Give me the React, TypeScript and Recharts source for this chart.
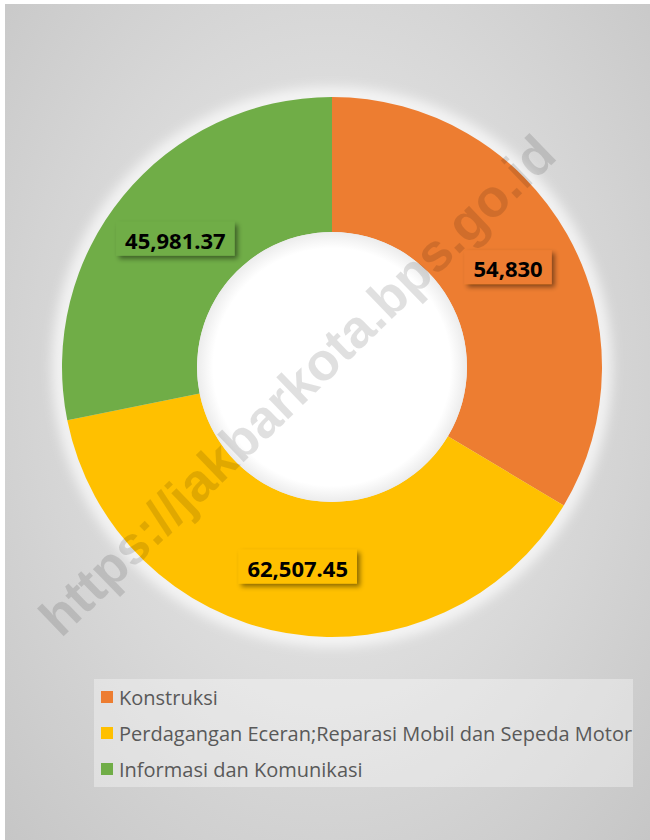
import { PieChart, Pie, Cell, Legend } from 'recharts';

const categories = [
  'Konstruksi',
  'Perdagangan Eceran;Reparasi Mobil dan Sepeda Motor',
  'Informasi dan Komunikasi',
];
const values = [54830, 62507.45, 45981.37];
const valueLabels = ['54,830', '62,507.45', '45,981.37'];
const colors = ['#ED7D31', '#FFC000', '#70AD47'];

const data = categories.map((name, i) => ({
  name,
  value: values[i],
  label: valueLabels[i],
  color: colors[i],
}));

const LABEL_FONT = 'bold 22px "Noto Sans"';
const RAD = Math.PI / 180;

function measure(text: string) {
  const ctx = document.createElement('canvas').getContext('2d');
  if (!ctx) return text.length * 11;
  ctx.font = LABEL_FONT;
  return ctx.measureText(text).width;
}

const renderLabel = (props: any) => {
  const { cx, cy, midAngle, innerRadius, outerRadius, index } = props;
  const r = (innerRadius + outerRadius) / 2;
  const x = cx + r * Math.cos(-midAngle * RAD);
  const y = cy + r * Math.sin(-midAngle * RAD);
  const text = data[index].label;
  const w = measure(text) + 18;
  const h = 34;
  return (
    <g key={`lbl-${index}`}>
      <rect
        x={x - w / 2}
        y={y - h / 2}
        width={w}
        height={h}
        fill={data[index].color}
        filter="url(#boxShadow)"
      />
      <text
        x={x}
        y={y + 1}
        textAnchor="middle"
        dominantBaseline="central"
        style={{ font: LABEL_FONT }}
        fill="#000"
      >
        {text}
      </text>
    </g>
  );
};

const renderLegend = () => (
  <div
    style={{
      background: 'rgba(255,255,255,0.35)',
      padding: '0 0 0 7px',
      fontFamily: '"Open Sans", sans-serif',
      fontSize: 20,
      color: '#595959',
    }}
  >
    {data.map((d) => (
      <div key={d.name} style={{ display: 'flex', alignItems: 'center', height: 36, whiteSpace: 'nowrap' }}>
        <span style={{ width: 12, height: 12, background: d.color, marginRight: 6, display: 'inline-block' }} />
        {d.name}
      </div>
    ))}
  </div>
);

export default function App() {
  return (
    <div style={{ width: 650, height: 840, background: '#fff', position: 'relative', overflow: 'hidden' }}>
      <style>{'body{margin:0}'}</style>
      <svg width={0} height={0} style={{ position: 'absolute' }}>
        <defs>
          <filter id="boxShadow" x="-20%" y="-30%" width="150%" height="180%">
            <feDropShadow dx="3" dy="3" stdDeviation="2.5" floodColor="#000" floodOpacity="0.45" />
          </filter>
          <filter id="glow" x="-20%" y="-20%" width="140%" height="140%">
            <feGaussianBlur stdDeviation="6" />
          </filter>
          <radialGradient id="hole" cx="50%" cy="50%" r="50%">
            <stop offset="88%" stopColor="#ffffff" />
            <stop offset="100%" stopColor="#ececec" />
          </radialGradient>
        </defs>
      </svg>
      <div
        style={{
          position: 'absolute',
          left: 5,
          top: 4,
          width: 645,
          height: 836,
          background: 'radial-gradient(ellipse at 50% 45%, #e9e9e9 0%, #dcdcdc 45%, #c6c6c6 100%)',
        }}
      >
        <PieChart width={645} height={836} margin={{ top: 0, right: 0, bottom: 0, left: 0 }}>
          <Pie
            data={[{ value: 1 }]}
            dataKey="value"
            cx={327}
            cy={363}
            innerRadius={262}
            outerRadius={280}
            fill="#ffffff"
            fillOpacity={0.7}
            stroke="none"
            style={{ filter: 'url(#glow)' }}
            isAnimationActive={false}
            label={false}
          />
          <Pie
            data={data}
            dataKey="value"
            nameKey="name"
            cx={327}
            cy={363}
            innerRadius={135}
            outerRadius={270}
            startAngle={90}
            endAngle={-270}
            stroke="none"
            isAnimationActive={false}
            labelLine={false}
            label={renderLabel}
          >
            {data.map((d) => (
              <Cell key={d.name} fill={d.color} />
            ))}
          </Pie>
          <Pie
            data={[{ value: 1 }]}
            dataKey="value"
            cx={327}
            cy={363}
            innerRadius={0}
            outerRadius={135}
            fill="url(#hole)"
            stroke="none"
            isAnimationActive={false}
            label={false}
          />
          <Legend
            content={renderLegend}
            wrapperStyle={{ position: 'absolute', left: 89, top: 675, width: 539 }}
          />
        </PieChart>
      </div>
      <svg
        width={650}
        height={840}
        style={{ position: 'absolute', left: 0, top: 0, pointerEvents: 'none' }}
      >
        <text
          x={297}
          y={385}
          textAnchor="middle"
          dominantBaseline="central"
          transform="rotate(-44 297 385)"
          style={{ font: 'bold 53px "Liberation Sans", Arial, sans-serif' }}
          fill="#000"
          fillOpacity={0.12}
        >
          https://jakbarkota.bps.go.id
        </text>
      </svg>
    </div>
  );
}
